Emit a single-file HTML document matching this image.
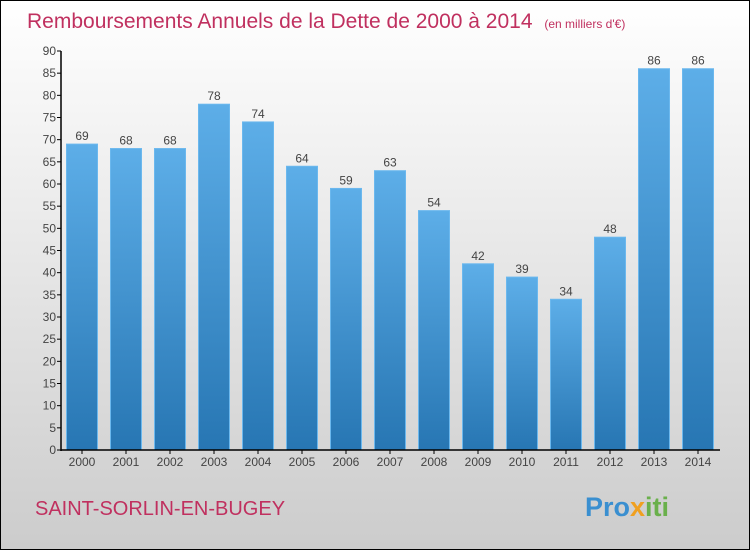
<!DOCTYPE html>
<html><head><meta charset="utf-8"><style>
body{margin:0;width:750px;height:550px;overflow:hidden;font-family:"Liberation Sans",sans-serif}
</style></head><body>
<svg width="750" height="550" xmlns="http://www.w3.org/2000/svg">
<defs>
<linearGradient id="bg" x1="0" y1="0" x2="0" y2="1"><stop offset="0" stop-color="#ffffff"/><stop offset="1" stop-color="#cccccc"/></linearGradient>
<linearGradient id="bar" x1="0" y1="0" x2="0" y2="1"><stop offset="0" stop-color="#5daee8"/><stop offset="1" stop-color="#2776b3"/></linearGradient>
</defs>
<rect x="0.5" y="0.5" width="749" height="549" fill="url(#bg)" stroke="#000"/>
<text x="27" y="28" font-size="21" fill="#c0305f">Remboursements Annuels de la Dette de 2000 à 2014 <tspan font-size="12" dx="6">(en milliers d'€)</tspan></text>
<g id="plot"></g>
<text x="35" y="515" font-size="20" fill="#c0305f">SAINT-SORLIN-EN-BUGEY</text>
<text x="585" y="516" font-size="27" font-weight="bold"><tspan fill="#3a8fd0">Pro</tspan><tspan fill="#f0a020">x</tspan><tspan fill="#6ab04c">iti</tspan></text>
</svg>
<script>
const years=["2000","2001","2002","2003","2004","2005","2006","2007","2008","2009","2010","2011","2012","2013","2014"];
const values=[69,68,68,78,74,64,59,63,54,42,39,34,48,86,86];
const yTicks=[0,5,10,15,20,25,30,35,40,45,50,55,60,65,70,75,80,85,90];
const NS="http://www.w3.org/2000/svg";
const g=document.getElementById('plot');
const y0=450,y1=51,axX=61,yMax=90;
const y=v=>y0-(v/yMax)*(y0-y1);
const x=i=>82+i*44;
function mk(t,a){const e=document.createElementNS(NS,t);for(const k in a)e.setAttribute(k,a[k]);g.appendChild(e);return e;}
yTicks.forEach(v=>{
 const l=mk('line',{x1:axX-4,x2:axX,y1:y(v),y2:y(v),stroke:'#000'});
 
 
 const t=mk('text',{x:axX-5,y:y(v)+4,'font-size':12,fill:'#444','text-anchor':'end'});
 t.textContent=v;
 
 
});
values.forEach((v,i)=>{
 const r=mk('rect',{x:x(i)-15.5,y:y(v),width:31,height:y0-y(v),fill:'url(#bar)',stroke:'#6bb8ee','stroke-width':1});
 
 
 const t=mk('text',{x:x(i),y:y(v)-4,'font-size':12,fill:'#444','text-anchor':'middle'});
 t.textContent=v;
 
 
 const k=mk('line',{x1:x(i),x2:x(i),y1:y0,y2:y0+4,stroke:'#000'});
 
 
 const xl=mk('text',{x:x(i),y:y0+16,'font-size':12,fill:'#444','text-anchor':'middle'});
 xl.textContent=years[i];
 
 
});
const ya=mk('line',{x1:axX,x2:axX,y1:y1,y2:y0+1,stroke:'#000','stroke-width':1.5});


const xa=mk('line',{x1:axX,x2:720,y1:y0,y2:y0,stroke:'#000','stroke-width':1.5});


</script>
</body></html>
